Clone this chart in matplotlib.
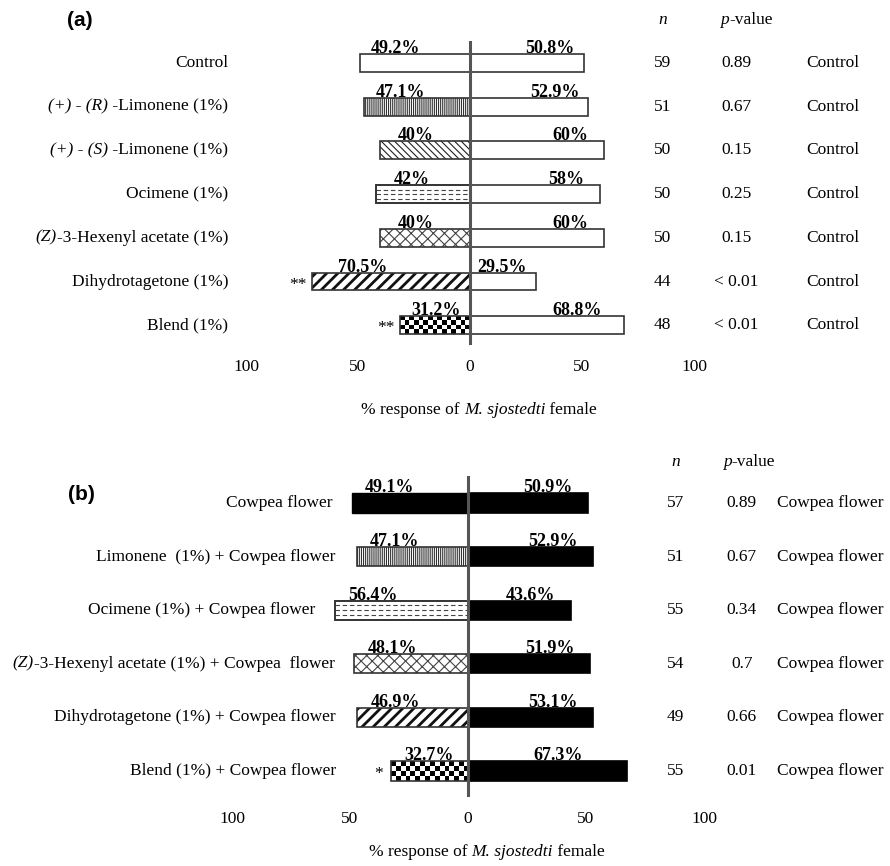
import numpy as np
import matplotlib.pyplot as plt
from matplotlib.offsetbox import TextArea, HPacker, AnnotationBbox

plt.rcParams['font.family'] = 'Liberation Serif'
plt.rcParams['hatch.linewidth'] = 0.8

# =============================================
# DATA  (text between underscores is set in italics)
# =============================================

# panel (a): odour vs control
a_labels = ['Control',
            '_(+) - (R)_ -Limonene (1%)',
            '_(+) - (S)_ -Limonene (1%)',
            'Ocimene (1%)',
            '_(Z)_-3-Hexenyl acetate (1%)',
            'Dihydrotagetone (1%)',
            'Blend (1%)']
a_left = [49.2, 47.1, 40, 42, 40, 70.5, 31.2]
a_right = [50.8, 52.9, 60, 58, 60, 29.5, 68.8]
a_n = [59, 51, 50, 50, 50, 44, 48]
a_p = ['0.89', '0.67', '0.15', '0.25', '0.15', '< 0.01', '< 0.01']
a_sig = ['', '', '', '', '', '**', '**']
a_side = 'Control'

# panel (b): odour + cowpea flower vs cowpea flower
b_labels = ['Cowpea flower',
            'Limonene  (1%) + Cowpea flower',
            'Ocimene (1%) + Cowpea flower',
            '_(Z)_-3-Hexenyl acetate (1%) + Cowpea  flower',
            'Dihydrotagetone (1%) + Cowpea flower',
            'Blend (1%) + Cowpea flower']
b_left = [49.1, 47.1, 56.4, 48.1, 46.9, 32.7]
b_right = [50.9, 52.9, 43.6, 51.9, 53.1, 67.3]
b_n = [57, 51, 55, 54, 49, 55]
b_p = ['0.89', '0.67', '0.34', '0.7', '0.66', '0.01']
b_sig = ['', '', '', '', '', '*']
b_side = 'Cowpea flower'

tick_vals = [-100, -50, 0, 50, 100]
xlabel = '% response of _M. sjostedti_ female'
n_head = '_n_'
p_head = '_p_-value'

# fill style of the left (odour) bar in each row
a_styles = ['plain', 'vert', 'back', 'dash', 'cross', 'fwd', 'checker']
b_styles = ['solid', 'vert', 'dash', 'cross', 'fwd', 'checker']

W, H = 890, 866
EDGE = '#333333'
FS = 12.5


def rich_text(ax, x, y, s, ha='center', fontsize=FS):
    parts = s.split('_')
    if len(parts) == 1:
        return ax.text(x, y, s, ha=ha, va='center', fontsize=fontsize)
    kids = [TextArea(t, textprops=dict(fontsize=fontsize,
                                       style='italic' if k % 2 else 'normal'))
            for k, t in enumerate(parts) if t]
    box = HPacker(children=kids, align='baseline', pad=0, sep=0)
    bx = {'left': 0, 'center': 0.5, 'right': 1}[ha]
    ab = AnnotationBbox(box, (x, y), xycoords='data', box_alignment=(bx, 0.5),
                        frameon=False, pad=0, annotation_clip=False)
    ax.add_artist(ab)
    return ab


def make_axes(fig, top_px, bot_px, zero_px, ppu, row0_px, step_px):
    ax = fig.add_axes([0, 1 - bot_px / H, 1, (bot_px - top_px) / H])
    ax.set_xlim(-zero_px / ppu, (W - zero_px) / ppu)
    ax.set_ylim((bot_px - row0_px) / step_px, (top_px - row0_px) / step_px)
    ax.axis('off')
    return ax


def draw_left_bar(ax, i, v, h, style, ppu, step_px):
    if style == 'solid':
        ax.barh(i, -v, height=h, color='black', edgecolor='black', lw=1.0, zorder=3)
    elif style == 'plain':
        ax.barh(i, -v, height=h, color='white', edgecolor=EDGE, lw=1.2, zorder=3)
    elif style == 'checker':
        bar = ax.barh(i, -v, height=h, color='none', edgecolor=EDGE, lw=1.2, zorder=3)[0]
        ncols = max(2, int(round(v * ppu / 4.8)))
        nrows = max(2, int(round(h * step_px / 4.8)))
        grid = np.indices((nrows, ncols)).sum(axis=0) % 2
        im = ax.imshow(grid, cmap='gray', extent=(-v, 0, i + h / 2, i - h / 2),
                       aspect='auto', interpolation='nearest', zorder=2)
        im.set_clip_path(bar)
    elif style == 'dash':
        ax.barh(i, -v, height=h, color='white', edgecolor=EDGE, lw=1.2, zorder=2)
        ax.hlines([i - h / 4, i, i + h / 4], -v, 0, colors='#444444', lw=0.8,
                  linestyles=(0, (4, 2.5)), zorder=3)
        ax.barh(i, -v, height=h, color='none', edgecolor=EDGE, lw=1.2, zorder=4)
    else:
        hatch = {'vert': '||||||||', 'back': '\\\\\\\\\\',
                 'cross': 'xxx', 'fwd': '///'}[style]
        hc = {'vert': '#333333', 'back': '#222222', 'cross': '#444444', 'fwd': '#111111'}[style]
        lw = 2.0 if style == 'fwd' else 0.8
        with plt.rc_context({'hatch.linewidth': lw, 'hatch.color': hc}):
            ax.barh(i, -v, height=h, color='white', edgecolor=hc, lw=0, hatch=hatch, zorder=3)
        ax.barh(i, -v, height=h, color='none', edgecolor=EDGE, lw=1.2, zorder=4)


def draw_panel(ax, labels, left, right, n, p, sig, side, styles, right_fill,
               ppu, step_px, h, label_x, label_gap, cols, lab_off, sig_gap,
               xlab, tag, tag_x, tag_y, head_y):
    px = 1.0 / step_px  # one pixel in y data units
    lo, lcap, ro, rcap = lab_off
    for i in range(len(labels)):
        draw_left_bar(ax, i, left[i], h, styles[i], ppu, step_px)
        ax.barh(i, right[i], height=h, color=right_fill,
                edgecolor=EDGE if right_fill == 'white' else 'black', lw=1.2, zorder=3)

        # percentage labels above bars
        ax.text(-min(left[i] - lo, lcap), i - h / 2 - px, f'{left[i]:g}%', ha='center',
                va='baseline', fontsize=13, fontweight='bold')
        ax.text(min(right[i] - ro, rcap), i - h / 2 - px, f'{right[i]:g}%', ha='center',
                va='baseline', fontsize=13, fontweight='bold')

        if sig[i]:
            ax.text(-left[i] - sig_gap / ppu, i + 7 * px, sig[i], ha='right',
                    va='baseline', fontsize=FS)

        rich_text(ax, min(label_x, -left[i] - label_gap), i, labels[i], ha='right')
        ax.text(cols[0], i, str(n[i]), ha='center', va='center', fontsize=FS)
        ax.text(cols[1], i, p[i], ha='center', va='center', fontsize=FS)
        ax.text(cols[2], i, side, ha=cols[3], va='center', fontsize=FS)

    ax.axvline(0, color='#555555', lw=2.2, zorder=5)

    # column headers
    rich_text(ax, cols[0], head_y, n_head)
    rich_text(ax, cols[4], head_y, p_head)

    # x ticks as text below the axes
    ybot = ax.get_ylim()[0]
    for t in tick_vals:
        ax.text(t, ybot + 22 * px, f'{abs(t)}', ha='center', va='center', fontsize=FS)
    rich_text(ax, xlab[0], ybot + xlab[1] * px, xlabel)

    ax.text(tag_x, tag_y, tag, ha='center', va='center', fontsize=15,
            fontweight='bold', family='Liberation Sans')


fig = plt.figure(figsize=(8.9, 8.66), dpi=100)

# panel (a): zero line at x=470 px, 2.24 px per unit, rows from y=63 px every 43.7 px
ax_a = make_axes(fig, 41, 345, 470, 2.24, 63, 43.7)
draw_panel(ax_a, a_labels, a_left, a_right, a_n, a_p, a_sig, a_side, a_styles, 'white',
           ppu=2.24, step_px=43.7, h=0.41, label_x=-108, label_gap=30,
           cols=(86, 119, 162, 'center', 123.5), lab_off=(16, 48, 15, 48), sig_gap=5,
           xlab=(4, 65), tag='(a)', tag_x=-174, tag_y=(20 - 63) / 43.7,
           head_y=(20 - 63) / 43.7)

# panel (b): zero line at x=468 px, 2.36 px per unit, rows from y=503 px every 53.6 px
ax_b = make_axes(fig, 476, 797, 468, 2.36, 503, 53.6)
draw_panel(ax_b, b_labels, b_left, b_right, b_n, b_p, b_sig, b_side, b_styles, 'black',
           ppu=2.36, step_px=53.6, h=0.355, label_x=-56, label_gap=8.5,
           cols=(88, 116, 131, 'left', 119), lab_off=(16, 99, 17, 38), sig_gap=8,
           xlab=(8, 55), tag='(b)', tag_x=-164, tag_y=(495 - 503) / 53.6,
           head_y=(462 - 503) / 53.6)

fig.savefig('out.png', dpi=100, facecolor='white')
